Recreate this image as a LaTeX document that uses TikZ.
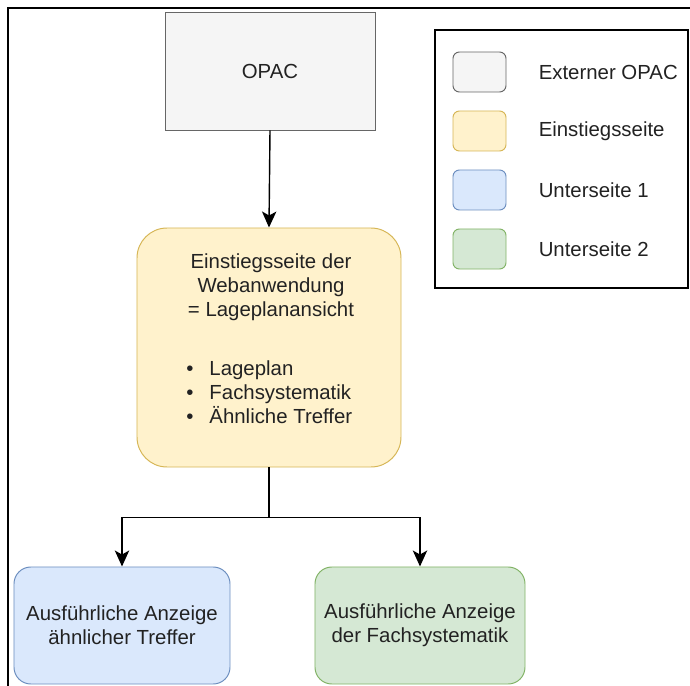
\documentclass[tikz,border=0pt]{standalone}
\usepackage{fontspec}
\setmainfont{Liberation Sans}
\usetikzlibrary{arrows.meta, positioning}
\definecolor{opacfill}{HTML}{F5F5F5}
\definecolor{opacline}{HTML}{666666}
\definecolor{startfill}{HTML}{FFF2CC}
\definecolor{startline}{HTML}{D6B656}
\definecolor{subafill}{HTML}{DAE8FC}
\definecolor{subaline}{HTML}{6C8EBF}
\definecolor{subbfill}{HTML}{D5E8D4}
\definecolor{subbline}{HTML}{82B366}
\definecolor{txtdark}{HTML}{222222}

\begin{document}
\begin{tikzpicture}[x=0.25mm, y=-0.25mm,
    every node/.style={font=\fontsize{14.5}{17}\selectfont, text=txtdark},
    pagebox/.style={draw, line width=0.7pt, align=center, inner sep=0pt},
    swatch/.style={draw, line width=0.7pt, rounded corners=1.6mm,
        minimum width=13.25mm, minimum height=10mm, inner sep=0pt},
    legtext/.style={right=8mm of #1, inner sep=0pt},
    flow/.style={-{Stealth[length=4mm, width=3.6mm, inset=1mm]}, line width=1pt}]
    \useasboundingbox (0,0) rectangle (690,686);

    % frame of the page
    \draw[line width=0.8pt] (8,686) -- (8,8) -- (690,8);

    % pages of the web application
    \node (opac) [pagebox, fill=opacfill, draw=opacline,
        minimum width=52.5mm, minimum height=29.5mm] at (270,71) {OPAC};
    \node (start) [pagebox, fill=startfill, draw=startline, rounded corners=7.5mm,
        minimum width=66mm, minimum height=59.75mm] at (269,347.5) {};
    \node (starttitle) [align=center, inner sep=0pt] at (271,287)
        {Einstiegsseite der\\Webanwendung\\= Lageplanansicht};
    \node (startlist) [align=left, inner sep=0pt, anchor=west] at (186,392)
        {\makebox[5.8mm][l]{\textbullet}Lageplan\\
         \makebox[5.8mm][l]{\textbullet}Fachsystematik\\
         \makebox[5.8mm][l]{\textbullet}Ähnliche Treffer};
    \node (suba) [pagebox, fill=subafill, draw=subaline, rounded corners=4.2mm,
        minimum width=54mm, minimum height=29.25mm] at (122,625.5)
        {Ausführliche Anzeige\\ähnlicher Treffer};
    \node (subb) [pagebox, fill=subbfill, draw=subbline, rounded corners=4.2mm,
        minimum width=52.5mm, minimum height=29.25mm] at (420,625.5)
        {Ausführliche Anzeige\\der Fachsystematik};

    % connectors
    \draw[flow] (opac.south) -- (start.north);
    \draw[line width=1pt] (start.south) -- ++(0,50) coordinate (split);
    \draw[flow] (split) -| (suba.north);
    \draw[flow] (split) -| (subb.north);

    % legend
    \node (legend) [draw, line width=0.85pt, minimum width=63.25mm,
        minimum height=64.5mm, inner sep=0pt] at (561.5,159) {};
    \node (legopac) [swatch, fill=opacfill, draw=opacline] at (479.5,72) {};
    \node (legstart) [swatch, fill=startfill, draw=startline] at (479.5,131) {};
    \node (legsuba) [swatch, fill=subafill, draw=subaline] at (479.5,190) {};
    \node (legsubb) [swatch, fill=subbfill, draw=subbline] at (479.5,249) {};
    \node (txtopac) [legtext=legopac] {Externer OPAC};
    \node (txtstart) [legtext=legstart] {Einstiegsseite};
    \node (txtsuba) [legtext=legsuba] {Unterseite 1};
    \node (txtsubb) [legtext=legsubb] {Unterseite 2};
\end{tikzpicture}
\end{document}
